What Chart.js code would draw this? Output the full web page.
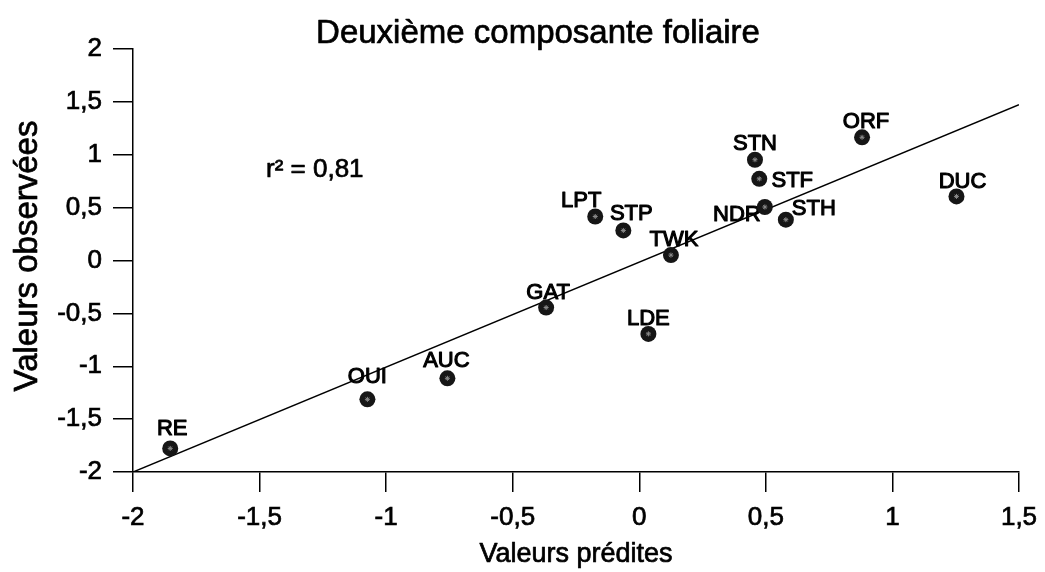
<!DOCTYPE html>
<html>
<head>
<meta charset="utf-8">
<script src="https://cdn.jsdelivr.net/npm/chart.js@4.4.1/dist/chart.umd.min.js"></script>
<style>
  html, body { margin: 0; padding: 0; background: #fff; }
  #wrap { width: 1045px; height: 572px; }
</style>
</head>
<body>
<div id="wrap"><canvas id="c" width="1045" height="572"></canvas></div>
<script>
// Sites and their predicted / observed scores on the second leaf component
const sites = ['RE', 'OUI', 'AUC', 'GAT', 'LDE', 'LPT', 'STP', 'TWK', 'STN', 'STF', 'NDR', 'STH', 'ORF', 'DUC'];
const predicted = [-1.853, -1.074, -0.758, -0.368, 0.036, -0.174, -0.063, 0.125, 0.457, 0.474, 0.496, 0.579, 0.880, 1.253];
const observed  = [-1.777, -1.313, -1.114, -0.445, -0.694, 0.416, 0.284, 0.051, 0.953, 0.772, 0.506, 0.386, 1.165, 0.606];

// Fitted regression line end points
const fitX = [-2, 1.5];
const fitY = [-2, 1.474];

// Axis ticks and their (French decimal) labels
const xTicks = [-2, -1.5, -1, -0.5, 0, 0.5, 1, 1.5];
const xTickLabels = ['-2', '-1,5', '-1', '-0,5', '0', '0,5', '1', '1,5'];
const yTicks = [-2, -1.5, -1, -0.5, 0, 0.5, 1, 1.5, 2];
const yTickLabels = ['-2', '-1,5', '-1', '-0,5', '0', '0,5', '1', '1,5', '2'];

const rSquared = '0,81';
const chartTitle = 'Deuxième composante foliaire';
const xTitle = 'Valeurs prédites';
const yTitle = 'Valeurs observées';

// Where each site name sits relative to its marker (pixels, text centre / baseline)
const labelOffsets = {
  RE: [2, -13], OUI: [0, -16], AUC: [-1, -11], GAT: [2, -9], LDE: [0, -9],
  LPT: [-14, -10], STP: [8, -10], TWK: [3, -9], STN: [0, -10], STF: [33, 8],
  NDR: [-28, 14], STH: [28, -5], ORF: [4, -9], DUC: [6, -8]
};

const FONT = '"Liberation Sans", Arial, Helvetica, sans-serif';

function tickLabel(values, labels) {
  return function (v) {
    const i = values.findIndex(t => Math.abs(t - v) < 1e-9);
    return i >= 0 ? labels[i] : '';
  };
}

// Text with a thin outline so it carries the weight of printed type
function heavyText(ctx, text, x, y, size, stroke) {
  ctx.font = size + 'px ' + FONT;
  ctx.lineWidth = stroke;
  ctx.strokeStyle = '#000';
  ctx.lineJoin = 'round';
  ctx.strokeText(text, x, y);
  ctx.fillText(text, x, y);
}

const annotate = {
  id: 'annotate',
  beforeDatasetsDraw(chart) {
    const { ctx, scales: { x, y } } = chart;
    ctx.save();
    ctx.fillStyle = '#000';
    ctx.textAlign = 'center';
    ctx.textBaseline = 'alphabetic';
    sites.forEach((s, i) => {
      const [dx, dy] = labelOffsets[s];
      heavyText(ctx, s, x.getPixelForValue(predicted[i]) + dx, y.getPixelForValue(observed[i]) + dy, 22, 1.1);
    });
    ctx.restore();
  },
  afterDraw(chart) {
    const { ctx, chartArea } = chart;
    ctx.save();
    ctx.fillStyle = '#000';
    ctx.textBaseline = 'alphabetic';
    ctx.textAlign = 'center';
    heavyText(ctx, chartTitle, 538, 43, 33, 0.7);
    heavyText(ctx, xTitle, (chartArea.left + chartArea.right) / 2, 562, 27, 0.7);
    ctx.save();
    ctx.translate(37, 256);
    ctx.rotate(-Math.PI / 2);
    heavyText(ctx, yTitle, 0, 0, 33, 0.7);
    ctx.restore();
    ctx.textAlign = 'left';
    heavyText(ctx, 'r² = ' + rSquared, 266, 177, 26, 0.7);
    ctx.restore();
  }
};

const axisCommon = {
  type: 'linear',
  grid: { drawOnChartArea: false, drawTicks: true, tickLength: 20, color: '#000', lineWidth: 1.5 },
  border: { display: true, color: '#000', width: 1.5 }
};

new Chart(document.getElementById('c'), {
  type: 'scatter',
  data: {
    datasets: [
      {
        label: 'sites',
        data: predicted.map((v, i) => ({ x: v, y: observed[i] })),
        pointRadius: 8,
        pointHoverRadius: 8,
        backgroundColor: '#161616',
        borderWidth: 0,
        order: 1
      },
      {
        label: 'centres',
        data: predicted.map((v, i) => ({ x: v, y: observed[i] })),
        pointStyle: 'star',
        pointRadius: 2.5,
        borderColor: '#8a8a8a',
        borderWidth: 1,
        backgroundColor: '#8a8a8a',
        order: 0
      },
      {
        type: 'line',
        label: 'fit',
        data: fitX.map((v, i) => ({ x: v, y: fitY[i] })),
        borderColor: '#000',
        borderWidth: 1.5,
        pointRadius: 0,
        fill: false,
        order: 2
      }
    ]
  },
  options: {
    responsive: false,
    animation: false,
    layout: { padding: { top: 49, right: 26, bottom: 0, left: 0 } },
    plugins: { legend: { display: false }, tooltip: { enabled: false }, title: { display: false } },
    scales: {
      x: Object.assign({}, axisCommon, {
        min: -2, max: 1.5,
        afterBuildTicks: s => { s.ticks = xTicks.map(v => ({ value: v })); },
        afterFit: s => { s.height = 100; s.paddingRight = 20; },
        ticks: { color: '#000', font: { size: 26, family: FONT }, padding: 10, maxRotation: 0, autoSkip: false,
                 textStrokeColor: '#000', textStrokeWidth: 0.7, callback: tickLabel(xTicks, xTickLabels) }
      }),
      y: Object.assign({}, axisCommon, {
        min: -2, max: 2,
        afterBuildTicks: s => { s.ticks = yTicks.map(v => ({ value: v })); },
        afterFit: s => { s.width = 133; },
        ticks: { color: '#000', font: { size: 26, family: FONT }, padding: 11, autoSkip: false,
                 textStrokeColor: '#000', textStrokeWidth: 0.7, callback: tickLabel(yTicks, yTickLabels) }
      })
    }
  },
  plugins: [annotate]
});
</script>
</body>
</html>
